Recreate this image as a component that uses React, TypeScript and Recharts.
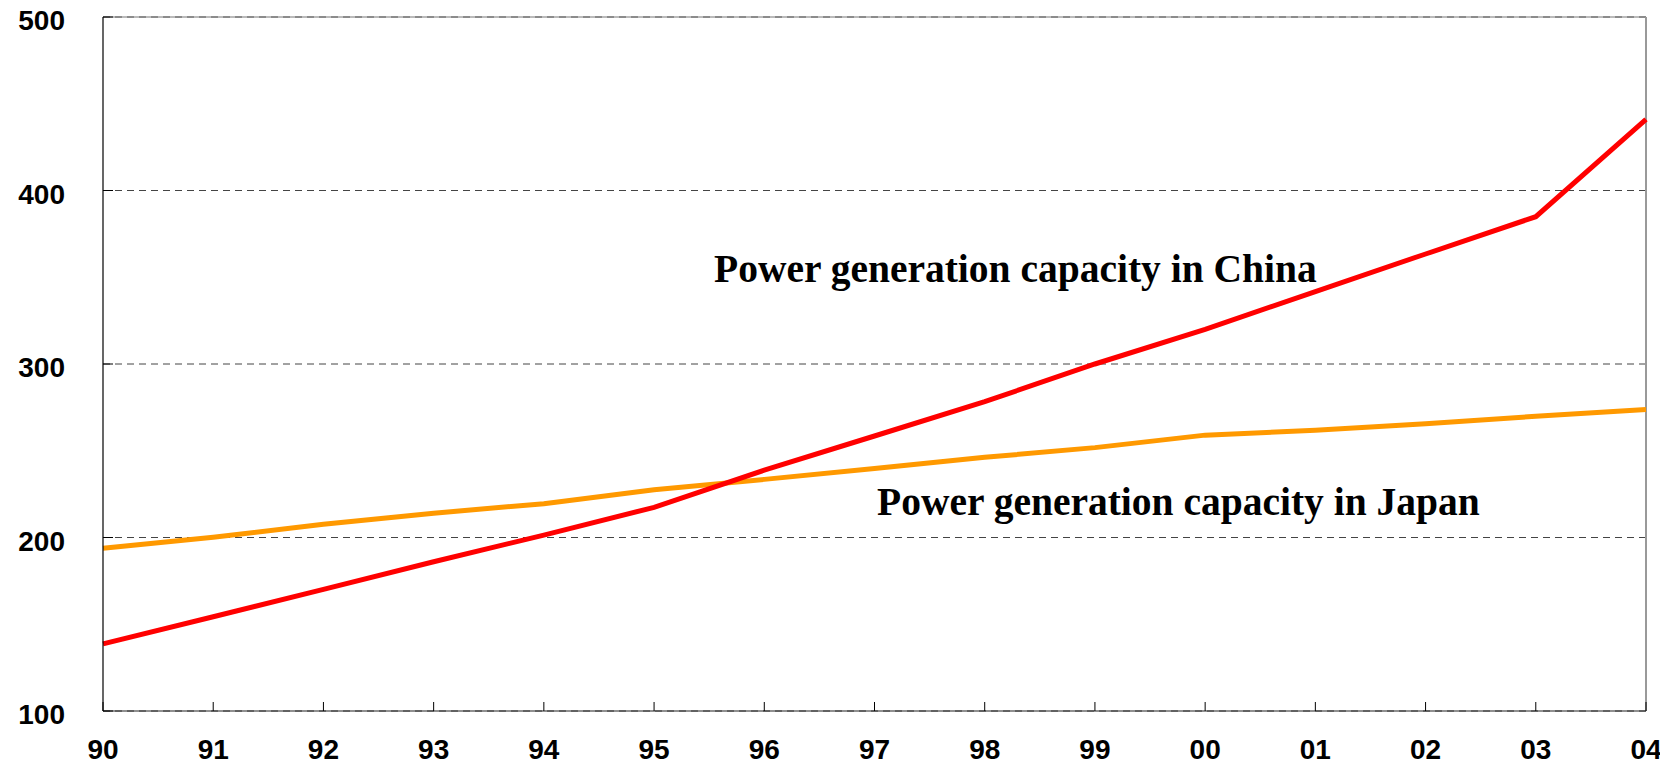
import React from 'react';
import { LineChart, Line, XAxis, YAxis, CartesianGrid, ReferenceLine } from 'recharts';

const years = ['90', '91', '92', '93', '94', '95', '96', '97', '98', '99', '00', '01', '02', '03', '04'];
const china = [138.7, 154.3, 170.1, 186, 201.4, 217.4, 238.8, 258.5, 278.3, 300, 320, 341.7, 363.4, 384.9, 441];
const japan = [193.8, 200.2, 207.6, 214, 219.5, 227.5, 233.5, 239.8, 246.2, 251.8, 259, 261.8, 265.6, 269.9, 273.8];
const yTicks = [100, 200, 300, 400, 500];

const chinaLabel = 'Power generation capacity in China';
const japanLabel = 'Power generation capacity in Japan';

const data = years.map((year, i) => ({ year, china: china[i], japan: japan[i] }));

const tickFont = {
  fontFamily: '"Liberation Sans", Arial, sans-serif',
  fontWeight: 700,
  fontSize: 28,
  fill: '#000',
};

// ticks point inward, so draw them by hand together with the label
const XTick = (props: any) => {
  const { x, y, payload } = props;
  return (
    <g>
      <line x1={x} y1={y} x2={x} y2={y - 9} stroke="#000" strokeWidth={1} />
      <text x={x} y={y + 38} dy="0.36em" textAnchor="middle" {...tickFont}>
        {payload.value}
      </text>
    </g>
  );
};

const YTick = (props: any) => {
  const { x, y, payload } = props;
  return (
    <g>
      <line x1={x} y1={y} x2={x + 10} y2={y} stroke="#000" strokeWidth={1} />
      <text x={x - 38} y={y + 3} dy="0.36em" textAnchor="end" {...tickFont}>
        {payload.value}
      </text>
    </g>
  );
};

const noteStyle: React.CSSProperties = {
  position: 'absolute',
  fontFamily: '"Liberation Serif", "Times New Roman", serif',
  fontWeight: 700,
  fontSize: 39.5,
  lineHeight: 1,
  whiteSpace: 'nowrap',
  color: '#000',
};

export default function App() {
  // pull the chart up over the body margin so the top label has room
  return (
    <div style={{ position: 'relative', width: 1660, height: 764, marginTop: -8 }}>
      <LineChart
        width={1660}
        height={764}
        data={data}
        margin={{ top: 17, right: 22, left: 10, bottom: 8 }}
        style={{ overflow: 'visible' }}
      >
        <CartesianGrid vertical={false} stroke="#444" strokeDasharray="7 5" />
        <XAxis
          dataKey="year"
          height={45}
          tickSize={0}
          tickMargin={0}
          tick={<XTick />}
          axisLine={{ stroke: '#222', strokeWidth: 1.2 }}
          tickLine={false}
          interval={0}
        />
        <YAxis
          width={85}
          domain={[100, 500]}
          ticks={yTicks}
          type="number"
          tickSize={0}
          tickMargin={0}
          tick={<YTick />}
          axisLine={{ stroke: '#000', strokeWidth: 1.2 }}
          tickLine={false}
          interval={0}
        />
        <ReferenceLine y={500} stroke="#777" strokeWidth={1} />
        <ReferenceLine x="04" stroke="#999" strokeWidth={2} />
        <Line
          type="linear"
          dataKey="japan"
          stroke="#FF9900"
          strokeWidth={5}
          dot={false}
          isAnimationActive={false}
        />
        <Line
          type="linear"
          dataKey="china"
          stroke="#FF0000"
          strokeWidth={5}
          dot={false}
          isAnimationActive={false}
        />
      </LineChart>
      <div style={{ ...noteStyle, left: 706, top: 250 }}>{chinaLabel}</div>
      <div style={{ ...noteStyle, left: 869, top: 483 }}>{japanLabel}</div>
    </div>
  );
}
